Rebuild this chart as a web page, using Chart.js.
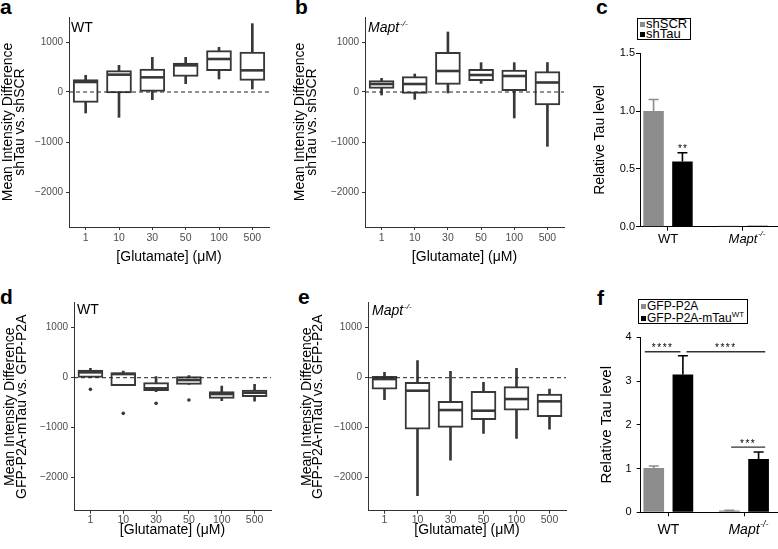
<!DOCTYPE html>
<html><head><meta charset="utf-8">
<script src="https://cdn.jsdelivr.net/npm/chart.js@4.4.1/dist/chart.umd.min.js"></script>
<style>
html,body{margin:0;padding:0;background:#fff}
body{width:778px;height:549px;position:relative;overflow:hidden;font-family:'Liberation Sans',Arial,Helvetica,sans-serif}
canvas{position:absolute}
.pl{position:absolute;font-weight:bold;font-size:21px;line-height:21px;color:#000}
.lg{position:absolute;border:1px solid #000;box-sizing:border-box;color:#000;white-space:nowrap;background:#fff}
.sq{display:inline-block;width:5px;height:5px;margin-right:1px;vertical-align:1px}
sup{font-size:8px;vertical-align:5px;line-height:0}
</style></head><body>
<div class="pl" style="left:0;top:-4px">a</div>
<div class="pl" style="left:295px;top:-4px">b</div>
<div class="pl" style="left:596px;top:-4px">c</div>
<div class="pl" style="left:0;top:286px">d</div>
<div class="pl" style="left:298px;top:286px">e</div>
<div class="pl" style="left:597px;top:287px">f</div>

<canvas id="ca"></canvas><canvas id="cb"></canvas><canvas id="cc"></canvas>
<canvas id="cd"></canvas><canvas id="ce"></canvas><canvas id="cf"></canvas>

<div class="lg" style="left:637px;top:18px;width:54px;height:22px;font-size:13px;line-height:10px;padding:0 0 0 2px">
<div><span class="sq" style="background:#8c8c8c"></span>shSCR</div>
<div><span class="sq" style="background:#000"></span>shTau</div>
</div>
<div class="lg" style="left:638px;top:299px;width:110px;height:25px;font-size:12px;line-height:12px;padding:0 0 0 2px">
<div><span class="sq" style="background:#8c8c8c"></span>GFP-P2A</div>
<div><span class="sq" style="background:#000"></span>GFP-P2A-mTau<sup>WT</sup></div>
</div>

<script>
// ---------- data ----------
const glutamate = ['1','10','30','50','100','500'];
// a: WT, shTau vs shSCR
const aMin = [-420,-507,-153,167,260,60];
const aQ1  = [-207,-20,13,313,427,233];
const aMed = [200,347,293,533,660,433];
const aQ3  = [247,427,460,580,827,800];
const aMax = [333,533,693,693,893,1367];
const aOut = [null,null,null,null,null,null];
// b: Mapt-/-, shTau vs shSCR
const bMin = [-60,-147,-20,173,-520,-1087];
const bQ1  = [73,-27,153,227,27,-260];
const bMed = [160,160,420,340,320,190];
const bQ3  = [227,307,793,453,440,407];
const bMax = [273,360,1200,587,587,590];
const bOut = [null,null,null,null,null,null];
// d: WT, GFP-P2A-mTau vs GFP-P2A
const dMin = [0,-160,-280,-133,-460,-467];
const dQ1  = [7,-160,-260,-133,-413,-380];
const dMed = [107,73,-213,-47,-327,-300];
const dQ3  = [153,100,-100,20,-280,-247];
const dMax = [187,133,20,40,-167,-133];
const dOut = [-233,-713,-513,-447,null,null];
// e: Mapt-/-, GFP-P2A-mTau vs GFP-P2A
const eMin = [-440,-2360,-1647,-1113,-1213,-1027];
const eQ1  = [-227,-1027,-993,-840,-647,-780];
const eMed = [-27,-260,-647,-660,-427,-473];
const eQ3  = [27,-93,-473,-273,-180,-327];
const eMax = [107,340,127,-93,187,-227];
const eOut = [null,null,null,null,null,null];
const boxYTicks = [-2000,-1000,0,1000];

// c / f: relative Tau level
const genotypes = ['WT','Mapt'];
const genotypeSup = ['','-/-'];
const cShSCR = [1.0,0.008];
const cShSCRerr = [0.10,0];
const cShTau = [0.565,0.008];
const cShTauErr = [0.075,0];
const cShTauSig = ['**',''];
const fGFP = [1.01,0.04];
const fGFPerr = [0.05,0.005];
const fTau = [3.15,1.22];
const fTauErr = [0.43,0.16];
const fBrackets = [
  {from:-0.31, to:0.16, y:3.67, label:'****'},
  {from:0.24, to:1.28, y:3.67, label:'****'},
  {from:0.83, to:1.28, y:1.49, label:'***'}
];

// ---------- helpers ----------
const FONT = "'Liberation Sans', Arial, Helvetica, sans-serif";
Chart.defaults.font.family = FONT;
Chart.defaults.color = '#000';
const BOXC = '#383838';
const GRAY = '#8c8c8c';

function setup(id, cv){
  const c = document.getElementById(id);
  c.width = cv.w; c.height = cv.h;
  c.style.left = cv.l + 'px'; c.style.top = cv.t + 'px';
  c.style.width = cv.w + 'px'; c.style.height = cv.h + 'px';
  return c;
}
const fmtBox = v => v < 0 ? '\u2212' + Math.abs(v) : String(v);

const boxExtras = {
  id:'boxExtras',
  afterDatasetsDraw(chart, args, o){
    const {ctx, chartArea:a, scales:{y}} = chart;
    const meta = chart.getDatasetMeta(1);
    const meds = chart.data.datasets[1].medians;
    ctx.save();
    ctx.strokeStyle = BOXC; ctx.lineWidth = 2.6;
    meta.data.forEach((el,i)=>{
      const p = el.getProps(['x','width'], true);
      const py = y.getPixelForValue(meds[i]);
      ctx.beginPath(); ctx.moveTo(p.x - p.width/2 + 1, py); ctx.lineTo(p.x + p.width/2 - 1, py); ctx.stroke();
    });
    const z = y.getPixelForValue(0);
    ctx.setLineDash([4,3]); ctx.lineWidth = 1; ctx.strokeStyle = '#222';
    ctx.beginPath(); ctx.moveTo(a.left, z); ctx.lineTo(a.right, z); ctx.stroke();
    ctx.setLineDash([]);
    ctx.fillStyle = '#000'; ctx.textBaseline = 'top'; ctx.textAlign = 'left';
    ctx.font = (o.italic ? 'italic ' : '') + '14px ' + FONT;
    const tx = a.left + o.dx, ty = a.top + o.dy;
    ctx.fillText(o.tag, tx, ty);
    if (o.sup){
      const w = ctx.measureText(o.tag).width;
      ctx.font = (o.italic ? 'italic ' : '') + '8px ' + FONT;
      ctx.fillText(o.sup, tx + w + 1, ty - 1);
    }
    ctx.restore();
  }
};

function boxChart(id, cv, area, ymin, ymax, st, yTitle, tag, xt){
  const c = setup(id, cv);
  const [mins,q1,med,q3,maxs,outs] = st;
  return new Chart(c, {
    type:'bar',
    data:{labels:glutamate, datasets:[
      {type:'line', data:outs, showLine:false, pointRadius:1.8, pointBackgroundColor:BOXC, pointBorderWidth:0},
      {data:glutamate.map((_,i)=>[q1[i],q3[i]]), medians:med, backgroundColor:'#fff', borderColor:BOXC, borderWidth:2, borderSkipped:false, barThickness:25, grouped:false},
      {data:glutamate.map((_,i)=>[mins[i],maxs[i]]), backgroundColor:BOXC, borderWidth:0, barThickness:2, grouped:false}
    ]},
    options:{
      responsive:false, animation:false, events:[],
      layout:{padding:{left:0, top:area.t - cv.t, right:cv.l + cv.w - area.r, bottom:0}},
      plugins:{legend:{display:false}, tooltip:{enabled:false}, boxExtras:tag},
      scales:{
        x:{offset:true,
          grid:{display:true, drawOnChartArea:false, offset:false, tickLength:3, color:'#333', lineWidth:1},
          border:{color:'#333', width:1},
          ticks:{font:{size:10.5}, color:'#4d4d4d', padding:xt.pad, maxRotation:0},
          title:{display:true, text:'[Glutamate] (\u03bcM)', font:{size:14}, color:'#000', padding:{top:0, bottom:xt.tpad}},
          afterFit:s=>{ s.height = cv.t + cv.h - area.b; }},
        y:{min:ymin, max:ymax,
          afterBuildTicks:s=>{ s.ticks = boxYTicks.map(v=>({value:v})); },
          ticks:{callback:fmtBox, font:{size:10}, color:'#4d4d4d', padding:3},
          grid:{drawOnChartArea:false, tickLength:3, color:'#333'},
          border:{color:'#333', width:1},
          title:{display:true, text:yTitle, font:{size:14, lineHeight:0.84}, color:'#000', padding:{top:xt.ytp, bottom:0}},
          afterFit:s=>{ s.width = area.l - cv.l; }}
      }
    },
    plugins:[boxExtras]
  });
}

const barExtras = {
  id:'barExtras',
  afterDatasetsDraw(chart, args, o){
    const {ctx, scales:{x,y}} = chart;
    ctx.save();
    chart.data.datasets.forEach((ds,di)=>{
      const meta = chart.getDatasetMeta(di);
      meta.data.forEach((el,i)=>{
        const err = ds.errors[i];
        const v = ds.data[i].y;
        const p = el.getProps(['x'], true);
        const y1 = y.getPixelForValue(v), y2 = y.getPixelForValue(v + err);
        if (err > 0){
          ctx.strokeStyle = ds.backgroundColor; ctx.lineWidth = 1.6;
          ctx.beginPath(); ctx.moveTo(p.x, y1); ctx.lineTo(p.x, y2);
          ctx.moveTo(p.x - 5, y2); ctx.lineTo(p.x + 5, y2); ctx.stroke();
        }
        if (ds.sig && ds.sig[i]){
          ctx.fillStyle = '#000'; ctx.font = '10px ' + FONT; ctx.letterSpacing = '1px';
          ctx.textAlign = 'center'; ctx.textBaseline = 'alphabetic';
          ctx.fillText(ds.sig[i], p.x + 0.5, y2 - 0.5);
        }
      });
    });
    (o.brackets || []).forEach(b=>{
      const x1 = x.getPixelForValue(b.from), x2 = x.getPixelForValue(b.to), py = y.getPixelForValue(b.y);
      ctx.strokeStyle = '#333'; ctx.lineWidth = 1.4;
      ctx.beginPath(); ctx.moveTo(x1, py); ctx.lineTo(x2, py); ctx.stroke();
      ctx.fillStyle = '#000'; ctx.font = '10px ' + FONT; ctx.letterSpacing = '1.5px';
      ctx.textAlign = 'center'; ctx.textBaseline = 'alphabetic';
      ctx.fillText(b.label, (x1 + x2)/2, py - 0.5);
    });
    ctx.restore();
  },
  afterDraw(chart, args, o){
    const {ctx, scales:{x}} = chart;
    ctx.save();
    ctx.fillStyle = '#000'; ctx.textAlign = 'left'; ctx.textBaseline = 'middle';
    genotypes.forEach((g,i)=>{
      if (!genotypeSup[i]) return;
      ctx.font = 'italic ' + o.fs + 'px ' + FONT;
      const w = ctx.measureText(g).width;
      const cx = x.getPixelForValue(i);
      const cy = x.top + o.tl + o.pad + o.fs*0.6;
      ctx.font = 'italic ' + Math.round(o.fs*0.62) + 'px ' + FONT;
      ctx.fillText(genotypeSup[i], cx + w/2 + 0.5, cy - o.fs*0.38);
    });
    ctx.restore();
  }
};

function barChart(id, cv, area, xmin, xmax, ymax, step, tfmt, sets, yt, ex){
  const c = setup(id, cv);
  return new Chart(c, {
    type:'bar',
    data:{datasets:sets.map(s=>({
      data:genotypes.map((g,i)=>({x:i, y:s.values[i]})),
      errors:s.errors, sig:s.sig, backgroundColor:s.color, borderWidth:0,
      categoryPercentage:0.77, barPercentage:0.71
    }))},
    options:{
      responsive:false, animation:false, events:[],
      layout:{padding:{left:0, top:area.t - cv.t, right:cv.l + cv.w - area.r, bottom:0}},
      plugins:{legend:{display:false}, tooltip:{enabled:false}, barExtras:ex},
      scales:{
        x:{type:'linear', min:xmin, max:xmax, offset:false,
          afterBuildTicks:s=>{ s.ticks = genotypes.map((g,i)=>({value:i})); },
          ticks:{callback:v=>genotypes[v], color:'#000', padding:ex.pad, maxRotation:0,
            font:ctx=>({size:ex.fs, style: ctx.index===1 ? 'italic' : 'normal'})},
          grid:{display:true, drawOnChartArea:false, offset:false, tickLength:ex.tl, color:'#000'},
          border:{color:'#000', width:1},
          afterFit:s=>{ s.height = cv.t + cv.h - area.b; }},
        y:{min:0, max:ymax,
          ticks:{stepSize:step, callback:tfmt, font:{size:11}, color:'#000', padding:ex.ypad},
          grid:{drawOnChartArea:false, tickLength:4, color:'#000'},
          border:{color:'#000', width:1},
          title:{display:true, text:'Relative Tau level', font:{size:ex.yfs}, color:'#000', padding:{top:ex.ytp, bottom:0}},
          afterFit:s=>{ s.width = area.l - cv.l; }}
      }
    },
    plugins:[barExtras]
  });
}

// ---------- panels ----------
const t1 = ['Mean Intensity Difference','shTau vs. shSCR'];
const t2 = ['Mean Intensity Difference','GFP-P2A-mTau vs. GFP-P2A'];

boxChart('ca', {l:0,t:0,w:275,h:270}, {l:69,t:17,r:269,b:227}, -2700, 1500,
  [aMin,aQ1,aMed,aQ3,aMax,aOut], t1, {tag:'WT', italic:false, sup:'', dx:2, dy:4}, {pad:2, tpad:4.6, ytp:2.4});
boxChart('cb', {l:290,t:0,w:280,h:270}, {l:365,t:17,r:564,b:227}, -2700, 1500,
  [bMin,bQ1,bMed,bQ3,bMax,bOut], t1, {tag:'Mapt', italic:true, sup:'-/-', dx:3, dy:4}, {pad:2, tpad:4.6, ytp:4.1});
boxChart('cd', {l:0,t:285,w:275,h:264}, {l:74,t:302.7,r:271,b:510.7}, -2660, 1500,
  [dMin,dQ1,dMed,dQ3,dMax,dOut], t2, {tag:'WT', italic:false, sup:'', dx:3, dy:0}, {pad:0, tpad:10.6, ytp:4.1});
boxChart('ce', {l:290,t:285,w:280,h:264}, {l:368,t:302.7,r:568,b:510.7}, -2660, 1500,
  [eMin,eQ1,eMed,eQ3,eMax,eOut], t2, {tag:'Mapt', italic:true, sup:'-/-', dx:4, dy:1}, {pad:0, tpad:10.6, ytp:10.8});

barChart('cc', {l:588,t:45,w:194,h:215}, {l:640,t:53.3,r:778,b:226.7}, -0.3733, 1.4667, 1.5, 0.5, v=>v.toFixed(1),
  [{values:cShSCR, errors:cShSCRerr, color:GRAY},
   {values:cShTau, errors:cShTauErr, color:'#000', sig:cShTauSig}],
  'Relative Tau level', {fs:13, tl:4, pad:0.5, ypad:1, yfs:14, ytp:3.6});
barChart('cf', {l:588,t:325,w:194,h:224}, {l:640.7,t:337.3,r:778,b:512.3}, -0.365, 1.449, 4, 1, v=>String(v),
  [{values:fGFP, errors:fGFPerr, color:GRAY},
   {values:fTau, errors:fTauErr, color:'#000'}],
  'Relative Tau level', {fs:14, tl:4, pad:5, ypad:5, yfs:15, ytp:10.3, brackets:fBrackets});
</script>
</body></html>
